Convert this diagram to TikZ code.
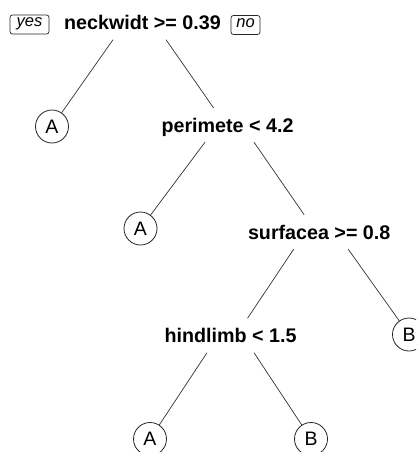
\documentclass[tikz,border=0pt]{standalone}
\usepackage{fontspec}
\setmainfont{Liberation Sans}
\begin{document}
\begin{tikzpicture}[x=1pt,y=-1pt,
  splitnode/.style={inner sep=0pt, minimum height=34pt, text height=14pt, text depth=0pt,
    font=\fontsize{19.7}{20}\selectfont\bfseries},
  leafnode/.style={circle, draw=black!85, line width=0.8pt, minimum size=33pt, inner sep=0pt,
    font=\fontsize{19.5}{20}\selectfont},
  tagbox/.style={draw=black!85, line width=0.7pt, rounded corners=2.5pt, inner sep=0pt,
    minimum height=19pt, text height=8pt, text depth=3pt, font=\fontsize{16.5}{17}\selectfont\itshape},
  branch/.style={draw=black!80, line width=0.7pt}]
\useasboundingbox (0,0) rectangle (416,452);
\clip (0,0) rectangle (416,452);
\fill[white] (0,0) rectangle (416,452);

\node[splitnode] (root) at (142.5,22.5) {neckwidt >= 0.39};
\node[tagbox, minimum width=39pt] (yes) at (29.5,24.5) {yes};
\node[tagbox, minimum width=29pt] (no) at (245.5,25) {no};

\node[splitnode] (perim) at (227.5,125) {perimete < 4.2};
\node[splitnode] (surf) at (319.2,232) {surfacea >= 0.8};
\node[splitnode] (hind) at (230.5,335.5) {hindlimb < 1.5};

\node[leafnode] (leafA1) at (52,126.5) {A};
\node[leafnode] (leafA2) at (140.5,228.5) {A};
\node[leafnode] (leafB1) at (409,334.5) {B};
\node[leafnode] (leafA3) at (150,439) {A};
\node[leafnode] (leafB2) at (311,439) {B};

\draw[branch] ([xshift=-29.5pt]root.south) -- (leafA1);
\draw[branch] ([xshift=23.5pt]root.south) -- ([xshift=-14pt]perim.north);
\draw[branch] ([xshift=-22.5pt]perim.south) -- (leafA2);
\draw[branch] ([xshift=26.5pt]perim.south) -- ([xshift=-15pt]surf.north);
\draw[branch] ([xshift=-25.5pt]surf.south) -- ([xshift=17pt]hind.north);
\draw[branch] ([xshift=29pt]surf.south) -- (leafB1);
\draw[branch] ([xshift=-23.5pt]hind.south) -- (leafA3);
\draw[branch] ([xshift=23.5pt]hind.south) -- (leafB2);
\end{tikzpicture}
\end{document}
